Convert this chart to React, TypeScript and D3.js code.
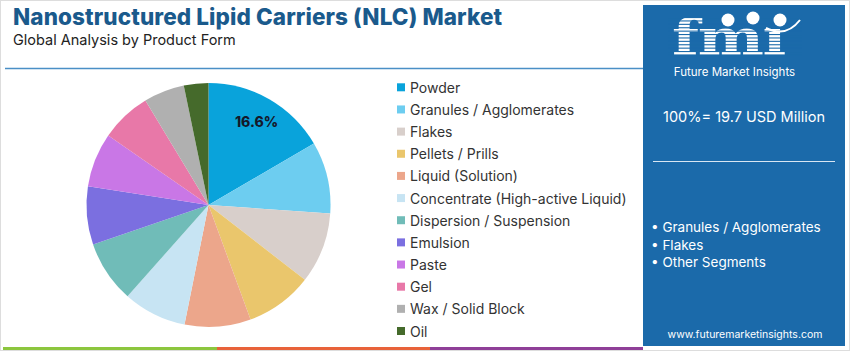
import React from "react";
import * as d3 from "d3";

const categories = [
  "Powder",
  "Granules / Agglomerates",
  "Flakes",
  "Pellets / Prills",
  "Liquid (Solution)",
  "Concentrate (High-active Liquid)",
  "Dispersion / Suspension",
  "Emulsion",
  "Paste",
  "Gel",
  "Wax / Solid Block",
  "Oil",
];
const shares = [16.6, 9.5, 9.4, 8.9, 8.75, 8.4, 8.2, 7.7, 7.2, 6.7, 5.4, 3.25];
const colors = [
  "#09a3db",
  "#6dcdf0",
  "#d8cfcb",
  "#eac66c",
  "#eca68b",
  "#c7e4f3",
  "#70bcb8",
  "#7b6fe0",
  "#c977e6",
  "#e878a8",
  "#b0b0b0",
  "#456a2b",
];
const highlights = ["Granules / Agglomerates", "Flakes", "Other Segments"];
const title = "Nanostructured Lipid Carriers (NLC) Market";
const subtitle = "Global Analysis by Product Form";
const totalLabel = "100%= 19.7 USD Million";
const url = "www.futuremarketinsights.com";
const brand = "Future Market Insights";

const W = 850;
const H = 351;

export default function App() {
  const cx = 208.5;
  const cy = 205;
  const r = 122;
  const pie = d3.pie<number>().sort(null).value((d) => d);
  const arcs = pie(shares);
  const arcGen = d3.arc<d3.PieArcDatum<number>>().innerRadius(0).outerRadius(r);
  const labelArc = d3.arc<d3.PieArcDatum<number>>().innerRadius(r * 0.79).outerRadius(r * 0.79);

  const legendY = d3.scaleLinear().domain([0, categories.length - 1]).range([87.3, 331]);

  const font = "Inter, 'Open Sans', sans-serif";
  const panelX = 643;
  const panelW = 202;
  const panelBlue = "#1b6aaa";

  const stripeYs = d3.range(17, 57, 3.4);

  return (
    <svg
      width={W}
      height={H}
      style={{ position: "absolute", left: 0, top: 0, display: "block" }}
      fontFamily={font}
    >
      <rect x={0} y={0} width={W} height={H} fill="#ffffff" />
      <rect x={0.5} y={0.5} width={W - 1} height={H - 1} fill="none" stroke="#dddddd" strokeWidth={1} />

      {/* Title */}
      <text x={13} y={25} fontSize={22.5} fontWeight={800} fill="#1a5a8c" letterSpacing={0.1}>
        {title}
      </text>
      <text x={13} y={44.5} fontSize={14.5} fill="#222222">
        {subtitle}
      </text>
      <line x1={5} x2={panelX} y1={68.5} y2={68.5} stroke="#4a8fc6" strokeWidth={1.5} />

      {/* Pie */}
      <g transform={`translate(${cx},${cy})`}>
        {arcs.map((a, i) => (
          <path key={categories[i]} d={arcGen(a) || ""} fill={colors[i]} />
        ))}
        {arcs.slice(0, 1).map((a) => {
          const [lx, ly] = labelArc.centroid(a);
          return (
            <text
              key="lbl"
              x={lx}
              y={ly}
              textAnchor="middle"
              dominantBaseline="central"
              fontSize={14}
              fontWeight={800}
              fill="#15192b"
            >
              {`${a.data}%`}
            </text>
          );
        })}
      </g>

      {/* Legend */}
      {categories.map((c, i) => (
        <g key={c} transform={`translate(397,${legendY(i)})`}>
          <rect x={0} y={-4} width={8} height={8} fill={colors[i]} />
          <text x={13} y={0} dominantBaseline="central" fontSize={14} fill="#333333">
            {c}
          </text>
        </g>
      ))}

      {/* Right panel */}
      <rect x={panelX} y={5} width={panelW} height={341} fill={panelBlue} />
      <g fill="#ffffff">
        <g transform="translate(672,55) scale(1.25,1)">
          <text x={0} y={0} fontSize={50} fontWeight={900} fontFamily="'DejaVu Serif', serif" letterSpacing={-1}>
            {"fm\u0131"}
          </text>
        </g>
        {stripeYs.map((y) => (
          <rect key={y} x={668} y={y} width={134} height={1.1} fill={panelBlue} />
        ))}
        <circle cx={728} cy={20} r={6.5} fill="#ffffff" />
        <circle cx={753} cy={18} r={6.5} fill="#ffffff" />
        <circle cx={780} cy={20} r={6.5} fill="#ffffff" />
        <path d="M 766 28 Q 786 38 800 20" fill="none" stroke="#ffffff" strokeWidth={2} />
        <text x={734.5} y={76} textAnchor="middle" fontSize={11.5}>
          {brand}
        </text>
        <text x={744} y={122} textAnchor="middle" fontSize={14.5}>
          {totalLabel}
        </text>
      </g>
      <line x1={653} x2={835} y1={161.5} y2={161.5} stroke="#d8e6f3" strokeWidth={1} />
      {highlights.map((h, i) => (
        <text key={h} x={651} y={227 + i * 17.5} dominantBaseline="central" fontSize={13.5} fill="#ffffff">
          {`• ${h}`}
        </text>
      ))}
      <text x={745} y={334} textAnchor="middle" dominantBaseline="central" fontSize={10.5} fill="#ffffff">
        {url}
      </text>

      {/* Bottom colour bar */}
      <rect x={3} y={347} width={214} height={3} fill="#8cc63e" />
      <rect x={217} y={347} width={213} height={3} fill="#e8623a" />
      <rect x={430} y={347} width={213} height={3} fill="#8f3f98" />
    </svg>
  );
}
